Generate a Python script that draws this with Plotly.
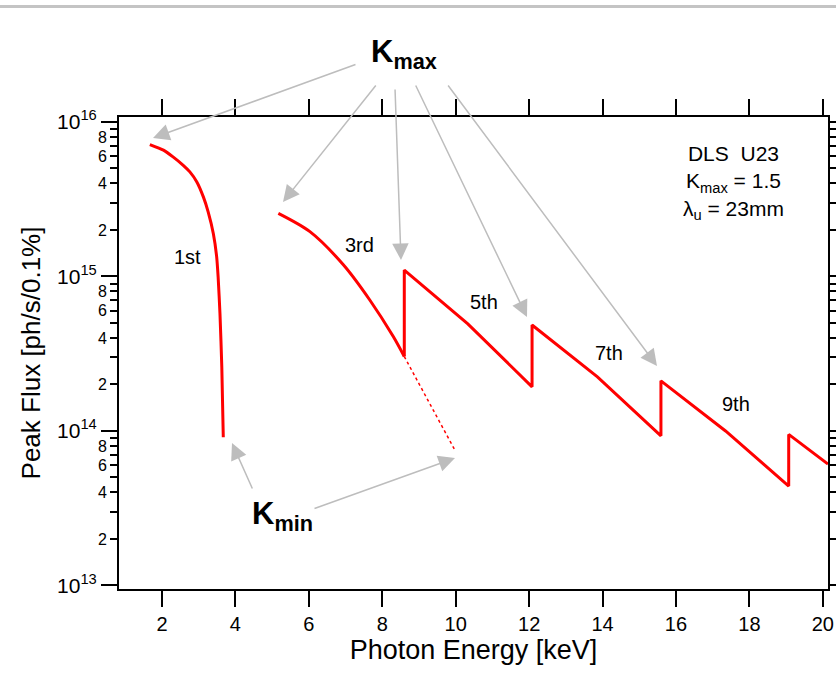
import plotly.graph_objects as go

# ---------------- data ----------------
h1_energy = [1.67, 2.04, 2.31, 2.58, 2.76, 2.95, 3.13, 3.26, 3.40, 3.49, 3.53, 3.58, 3.63, 3.67]
h1_flux = [7.14e15, 6.57e15, 5.92e15, 5.24e15, 4.75e15, 4.09e15, 3.26e15, 2.61e15,
           1.89e15, 1.34e15, 9.9e14, 5.74e14, 2.58e14, 9.1e13]

h3_energy = [5.17, 6.03, 6.94, 7.66, 8.30, 8.60]
h3_flux = [2.56e15, 1.95e15, 1.19e15, 7.04e14, 4.08e14, 3.03e14]

# 5th, 7th, 9th, 11th harmonics (vertical jumps at Kmin -> Kmax)
hi_energy = [8.60, 8.60, 10.33, 12.08, 12.08, 13.86, 15.59, 15.59, 17.35, 19.07, 19.07, 20.14]
hi_flux = [3.03e14, 1.10e15, 4.93e14, 1.93e14, 4.85e14, 2.24e14, 9.3e13, 2.11e14, 1.0e14, 4.4e13, 9.5e13, 6.1e13]

ext_energy = [8.60, 9.98]
ext_flux = [3.03e14, 7.5e13]

x_ticks = [2, 4, 6, 8, 10, 12, 14, 16, 18, 20]
decades = [13, 14, 15, 16]
harmonic_labels = ["1st", "3rd", "5th", "7th", "9th"]

# ---------------- layout helpers ----------------
W, H = 836, 676
L, R, T, B = 119, 828, 117, 589
FONT = "Liberation Sans, Arial, Helvetica, sans-serif"
RED = "#ff0000"
GREY = "#bdbdbd"


def xp(px):
    return (px - L) / (R - L)


def yp(py):
    return (B - py) / (B - T)


minor_vals, minor_text = [], []
for d in decades[:-1]:
    for m in range(2, 10):
        minor_vals.append(m * 10 ** d)
        minor_text.append(str(m) if m % 2 == 0 else "")

fig = go.Figure()
fig.add_trace(go.Scatter(x=h1_energy, y=h1_flux, mode="lines",
                         line=dict(color=RED, width=3, shape="spline", smoothing=0.6),
                         showlegend=False, hoverinfo="skip"))
fig.add_trace(go.Scatter(x=h3_energy, y=h3_flux, mode="lines",
                         line=dict(color=RED, width=3, shape="spline", smoothing=0.8),
                         showlegend=False, hoverinfo="skip"))
fig.add_trace(go.Scatter(x=hi_energy, y=hi_flux, mode="lines",
                         line=dict(color=RED, width=3),
                         showlegend=False, hoverinfo="skip"))
fig.add_trace(go.Scatter(x=ext_energy, y=ext_flux, mode="lines", yaxis="y2",
                         line=dict(color=RED, width=1.5, dash="dot"),
                         showlegend=False, hoverinfo="skip"))

yrange = [12.977, 16.032]
fig.update_layout(
    width=W, height=H,
    margin=dict(l=L, r=W - R, t=T, b=H - B, autoexpand=False),
    paper_bgcolor="white", plot_bgcolor="white",
    font=dict(family=FONT, color="black"),
    xaxis=dict(range=[0.83, 20.14], tickmode="array", tickvals=x_ticks,
               ticktext=[str(v) for v in x_ticks],
               ticks="outside", ticklen=16, tickwidth=2, tickcolor="black",
               showline=True, linewidth=2, linecolor="black", mirror="ticks",
               showgrid=False, zeroline=False,
               tickfont=dict(size=20, family=FONT),
               title=dict(text="Photon Energy [keV]", font=dict(size=27, family=FONT), standoff=5)),
    yaxis=dict(type="log", range=yrange, tickmode="array", tickvals=minor_vals,
               ticktext=minor_text, ticks="outside", ticklen=7, tickwidth=2,
               tickcolor="black", showline=True, linewidth=2, linecolor="black",
               mirror="ticks", showgrid=False, zeroline=False,
               tickfont=dict(size=16, family=FONT),
               title=dict(text="Peak Flux [ph/s/0.1%]", font=dict(size=26, family=FONT), standoff=50)),
    yaxis2=dict(type="log", range=yrange, overlaying="y", side="left",
                tickmode="array", tickvals=[10 ** d for d in decades],
                ticktext=["10<sup>%d</sup>" % d for d in decades],
                ticks="outside", ticklen=16, tickwidth=2, tickcolor="black",
                showline=True, linewidth=2, linecolor="black", mirror="ticks",
                showgrid=False, zeroline=False,
                tickfont=dict(size=21, family=FONT)),
)

# grey rule at the very top of the slide
fig.add_shape(type="line", xref="paper", yref="paper",
              x0=xp(-5), x1=xp(W + 5), y0=yp(6.5), y1=yp(6.5),
              line=dict(color="#c4c4c4", width=3))

annotations = []
# big labels
annotations.append(dict(text="<b>K<sub>max</sub></b>", x=xp(404), y=yp(54),
                        font=dict(size=31, family=FONT, color="black")))
annotations.append(dict(text="<b>K<sub>min</sub></b>", x=xp(282), y=yp(516),
                        font=dict(size=31, family=FONT, color="black")))
# harmonic labels
label_pos = [(187, 257), (359, 245), (484, 302), (609, 353), (736, 404)]
for lbl, (px_, py_) in zip(harmonic_labels, label_pos):
    annotations.append(dict(text=lbl, x=xp(px_), y=yp(py_),
                            font=dict(size=20, family=FONT, color="black")))
# info block
annotations.append(dict(text="DLS\u00a0\u00a0U23<br>K<sub>max</sub> = 1.5<br>\u03bb<sub>u</sub> = 23mm",
                        x=xp(733), y=yp(182), align="center",
                        font=dict(size=21, family=FONT, color="black")))
for a in annotations:
    a.update(xref="paper", yref="paper", showarrow=False,
             xanchor="center", yanchor="middle")

# arrows: (head, tail) in pixels
arrows = [((153, 138), (357, 64)), ((283, 202), (377, 84)), ((401, 260), (395, 88)),
          ((527, 317), (415, 84)), ((657, 366), (447, 84)),
          ((232, 443), (253, 490)), ((455, 458), (313, 509))]
for (hx, hy), (tx, ty) in arrows:
    annotations.append(dict(text="", xref="paper", yref="paper",
                            x=xp(hx), y=yp(hy), ax=tx - hx, ay=ty - hy,
                            showarrow=True, arrowhead=2, arrowsize=2.2,
                            arrowwidth=1.5, arrowcolor=GREY, standoff=0,
                            startstandoff=0))
fig.update_layout(annotations=annotations)

fig.write_html("out.html")
